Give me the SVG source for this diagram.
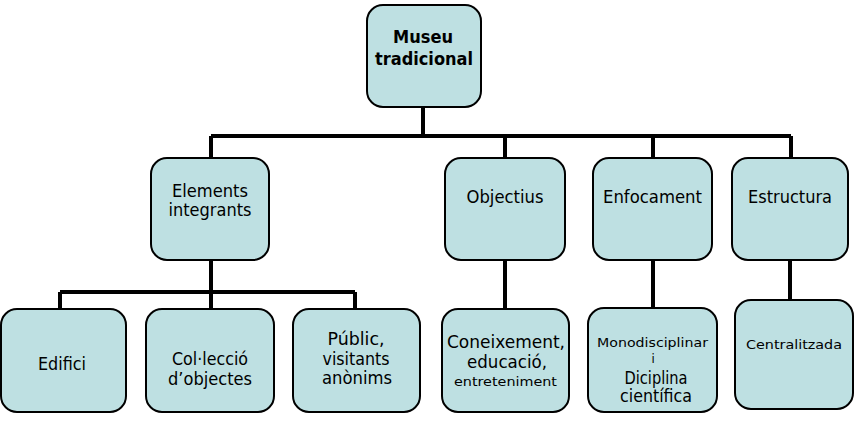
<svg xmlns="http://www.w3.org/2000/svg" width="858" height="422" viewBox="0 0 858 422">
<style>
.n{fill:#bee0e2;stroke:#000;stroke-width:2}
.c{fill:none;stroke:#000;stroke-width:4}
text{font-family:"DejaVu Sans Condensed","DejaVu Sans","Liberation Sans",sans-serif;font-size:17px;fill:#000;text-anchor:middle}
.b{font-weight:bold;font-size:17px}
.s{font-size:13px}
</style>
<rect width="858" height="422" fill="#fff"/>
<g id="connectors">
<path class="c" d="M423 106V136M211 136H791M211 136V158M505 136V158M653 136V158M791 136V158"/>
<path class="c" d="M211 260V309M60 292H355M60 292V309M355 292V309"/>
<path class="c" d="M505 260V309M653 260V308M790 247V300"/>
</g>
<g id="museu"><rect class="n" x="367" y="5" width="114" height="102" rx="16"/><text class="b" x="423" y="43" textLength="60" lengthAdjust="spacingAndGlyphs">Museu</text><text class="b" x="424" y="65" textLength="98" lengthAdjust="spacingAndGlyphs">tradicional</text></g>
<g id="elements"><rect class="n" x="151" y="158" width="118" height="102" rx="16"/><text x="210" y="197" textLength="76" lengthAdjust="spacingAndGlyphs">Elements</text><text x="210" y="216" textLength="83" lengthAdjust="spacingAndGlyphs">integrants</text></g>
<g id="objectius"><rect class="n" x="445" y="158" width="120" height="102" rx="16"/><text x="505" y="203" textLength="77" lengthAdjust="spacingAndGlyphs">Objectius</text></g>
<g id="enfocament"><rect class="n" x="593" y="158" width="119" height="102" rx="16"/><text x="652.5" y="203" textLength="99" lengthAdjust="spacingAndGlyphs">Enfocament</text></g>
<g id="estructura"><rect class="n" x="732" y="158" width="116" height="102" rx="16"/><text x="790" y="203" textLength="84" lengthAdjust="spacingAndGlyphs">Estructura</text></g>
<g id="edifici"><rect class="n" x="1" y="309" width="125" height="103" rx="16"/><text x="62" y="370" textLength="48" lengthAdjust="spacingAndGlyphs">Edifici</text></g>
<g id="colleccio"><rect class="n" x="146" y="309" width="128" height="103" rx="16"/><text x="210" y="365" textLength="76" lengthAdjust="spacingAndGlyphs">Col·lecció</text><text x="210" y="385" textLength="84" lengthAdjust="spacingAndGlyphs">d’objectes</text></g>
<g id="public"><rect class="n" x="293" y="309" width="127" height="103" rx="16"/><text x="356" y="345" textLength="57" lengthAdjust="spacingAndGlyphs">Públic,</text><text x="356" y="365" textLength="67" lengthAdjust="spacingAndGlyphs">visitants</text><text x="357" y="384" textLength="70" lengthAdjust="spacingAndGlyphs">anònims</text></g>
<g id="coneixement"><rect class="n" x="442" y="309" width="127" height="103" rx="16"/><text x="506" y="348" textLength="118" lengthAdjust="spacingAndGlyphs">Coneixement,</text><text x="507" y="368" textLength="80" lengthAdjust="spacingAndGlyphs">educació,</text><text class="s" x="505.5" y="386" textLength="103" lengthAdjust="spacingAndGlyphs">entreteniment</text></g>
<g id="mono"><rect class="n" x="588" y="308" width="129" height="104" rx="16"/><text class="s" x="652.5" y="347" textLength="111" lengthAdjust="spacingAndGlyphs">Monodisciplinar</text><text class="s" x="653" y="363">i</text><text x="656" y="384" textLength="63" lengthAdjust="spacingAndGlyphs">Diciplina</text><text x="656" y="402" textLength="72" lengthAdjust="spacingAndGlyphs">científica</text></g>
<g id="centralitzada"><rect class="n" x="735" y="300" width="118" height="109" rx="16"/><text class="s" x="794" y="349" textLength="96" lengthAdjust="spacingAndGlyphs">Centralitzada</text></g>
</svg>
